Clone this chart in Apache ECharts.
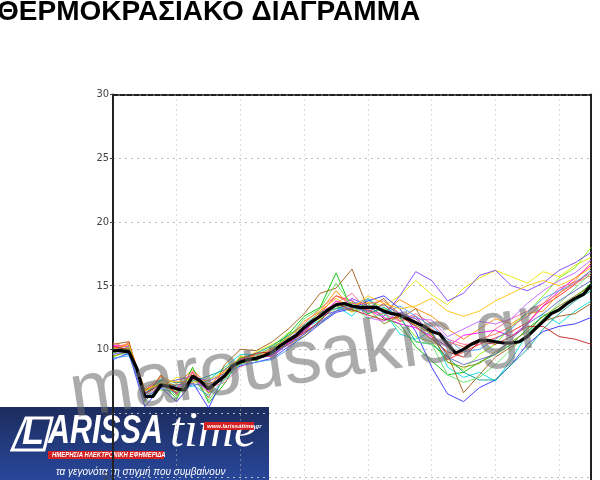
<!DOCTYPE html>
<html><head><meta charset="utf-8">
<script src="https://cdn.jsdelivr.net/npm/echarts@6/dist/echarts.min.js"></script>
<style>html,body{margin:0;padding:0;background:#fff}#c{width:600px;height:480px}</style>
</head><body><div id="c"></div>
<script>
// Title / texts
const titleText = "ΘΕΡΜΟΚΡΑΣΙΑΚΟ ΔΙΑΓΡΑΜΜΑ";
const watermarkText = "marousakis.gr";
const yTicks = [-5, 0, 5, 10, 15, 20, 25, 30];

// Ensemble mean, 6-hourly from 0 to 360 h
const meanT = [9.9, 9.9, 9.8, 8.5, 6.3, 6.3, 7.2, 7.1, 6.9, 6.8, 7.9, 7.5, 6.9, 7.4, 7.9, 8.7, 9.0, 9.2, 9.3, 9.5,
  9.8, 10.3, 10.7, 11.1, 11.7, 12.2, 12.6, 13.1, 13.5, 13.6, 13.4, 13.3, 13.3, 13.3, 13.0, 12.8, 12.7, 12.4, 12.1, 11.8,
  11.4, 11.2, 10.4, 9.7, 10.0, 10.4, 10.7, 10.7, 10.6, 10.5, 10.5, 10.6, 11.0, 11.6, 12.2, 12.8, 13.1, 13.6, 14.0, 14.3, 15.0];

// Ensemble members, 12-hourly from 0 to 360 h
const m01 = [10.2,10.4,6.8,7.6,6.5,8.2,6.6,8.4,9.3,9.6,9.4,10.5,11.4,12.8,14.2,13.8,12.9,13.6,12.2,12.6,11.0,9.2,9.8,10.4,10.9,11.4,12.1,13.4,14.2,15.1,16.2];
const m02 = [9.6,10.6,6.0,7.9,7.3,8.4,7.2,7.6,9.5,9.1,10.1,10.9,12.2,13.0,14.6,13.2,14.0,12.9,13.9,13.2,12.6,11.6,10.8,11.6,12.4,12.0,12.8,13.0,14.4,15.4,16.8];
const m03 = [9.8,10.1,6.6,7.0,7.8,7.6,7.0,8.6,9.2,9.8,10.4,11.0,11.8,12.4,13.8,12.9,13.7,13.4,14.2,15.4,14.3,13.5,14.8,15.6,16.2,15.7,15.2,16.1,15.7,16.6,17.2];
const m04 = [10.1,10.0,5.9,7.4,6.1,8.6,5.8,7.3,9.4,9.1,10.0,11.2,12.6,13.3,16.0,13.1,13.6,12.4,12.0,10.2,9.1,8.0,8.2,9.0,9.6,10.4,11.6,12.6,13.2,14.0,15.2];
const m05 = [9.4,9.9,6.9,6.8,6.7,8.0,6.5,8.2,8.8,9.4,10.2,11.3,11.4,12.0,13.2,13.7,12.8,13.2,12.4,11.0,10.6,9.0,8.4,9.6,10.4,11.8,12.9,14.2,15.6,16.4,18.0];
const m06 = [9.7,9.6,6.4,7.7,7.1,7.1,7.6,8.6,9.6,9.6,9.6,10.6,11.6,12.3,13.4,12.6,14.0,13.0,11.2,10.8,11.4,8.6,7.8,8.2,7.5,9.2,11.2,12.8,12.0,13.0,13.8];
const m07 = [9.2,9.7,5.5,7.0,5.9,7.4,5.4,8.0,8.7,9.0,9.3,10.2,11.0,12.0,12.9,13.2,13.8,14.2,13.2,11.4,8.6,6.5,5.9,7.0,7.6,8.8,10.4,11.4,11.8,12.0,12.5];
const m08 = [10.0,10.3,6.6,7.3,7.6,7.9,7.5,8.1,9.2,9.5,9.5,10.4,11.4,12.6,13.0,14.0,13.4,12.6,14.2,16.1,15.4,13.8,14.4,15.8,16.2,15.0,14.6,15.2,16.2,16.8,17.6];
const m09 = [10.3,10.2,6.2,7.1,7.0,7.7,6.8,8.0,9.0,9.3,9.6,10.5,11.5,12.6,13.8,13.3,13.1,12.5,12.0,11.7,11.0,10.2,11.1,11.3,11.5,11.0,12.0,13.4,14.6,15.6,16.6];
const m10 = [9.9,10.5,6.7,7.5,6.8,8.3,7.0,7.4,8.6,9.4,10.0,10.3,11.2,12.9,13.6,14.4,13.0,12.8,12.2,12.8,12.0,10.8,10.4,10.4,11.6,12.4,13.0,13.6,14.8,15.3,16.0];
const m11 = [10.4,10.6,6.1,8.0,6.4,7.8,6.2,8.8,10.0,9.9,10.6,11.6,12.8,14.4,14.8,16.3,13.2,14.0,12.4,13.2,11.2,9.6,6.6,8.0,9.4,10.2,11.0,12.2,12.6,12.8,13.6];
const m12 = [9.5,9.8,6.8,7.3,7.2,7.6,7.3,7.8,8.9,9.2,9.8,10.4,11.0,12.3,13.4,13.0,13.2,12.0,12.6,11.9,11.2,9.0,8.6,8.9,9.8,10.6,11.4,12.6,13.4,14.2,15.0];
const m13 = [9.8,10.0,6.5,7.6,7.4,7.5,7.9,8.4,9.3,9.7,10.3,11.1,11.9,12.9,13.2,13.5,12.8,13.3,12.6,10.6,10.4,9.4,8.2,7.6,7.6,8.8,10.0,11.6,12.8,13.8,14.6];
const m14 = [9.3,9.5,6.3,6.9,6.6,7.2,6.4,7.6,8.8,9.0,9.2,10.0,11.2,12.2,13.0,13.6,13.9,12.8,13.4,12.6,11.8,10.8,9.8,10.0,10.8,11.6,12.9,14.0,14.6,15.2,16.2];
const m15 = [10.5,10.1,6.9,7.8,7.0,8.1,7.1,8.3,9.1,9.6,10.1,11.0,12.0,13.2,14.2,13.6,13.6,13.8,12.8,12.2,11.6,10.6,10.2,10.8,11.2,11.8,12.6,13.6,14.4,15.2,15.8];
const m16 = [9.6,9.9,6.4,7.2,6.9,7.7,6.7,7.9,9.0,9.2,9.7,10.8,11.8,12.5,13.4,13.9,12.5,12.2,12.9,12.4,12.3,11.0,11.6,12.2,12.0,12.4,13.6,14.6,15.4,16.0,17.0];
const m17 = [10.0,10.4,6.7,7.4,7.5,7.4,7.6,8.2,9.4,9.4,9.9,10.6,11.6,13.0,14.0,13.2,14.2,13.6,13.2,13.4,14.0,13.0,12.6,13.0,13.8,14.4,15.0,15.4,15.0,15.6,16.4];
const m18 = [9.7,10.2,6.2,7.5,6.3,7.9,6.0,7.7,8.9,9.5,10.2,10.9,12.4,13.2,15.2,13.4,12.4,12.8,11.6,10.6,10.4,8.0,7.4,7.8,8.8,10.0,11.2,12.4,13.6,14.8,16.0];
const m19 = [10.2,10.0,6.5,7.3,6.6,7.8,6.9,8.0,9.2,9.7,9.8,10.6,11.3,12.2,13.6,13.1,12.7,12.3,12.6,11.8,10.8,9.8,9.4,10.6,10.4,11.0,11.8,11.8,11.0,10.8,10.4];
const m20 = [9.9,9.7,6.0,7.0,7.2,7.3,7.1,8.0,9.1,9.3,9.6,10.4,11.2,12.1,13.0,13.3,13.0,13.5,12.8,12.4,11.4,9.4,8.8,9.2,9.6,10.8,12.0,12.8,13.8,14.6,15.4];
const members = [m01,m02,m03,m04,m05,m06,m07,m08,m09,m10,m11,m12,m13,m14,m15,m16,m17,m18,m19,m20];

const memberColors = ['#ff2020','#ff8c00','#e8e800','#00c000','#80f000','#00dede','#3030ff','#8040ff','#ff00ff','#ff6090',
  '#a05a10','#8a8a00','#00a090','#40a0ff','#ff7050','#c060ff','#ffc000','#60e060','#c02020','#6060c0'];

const chart = echarts.init(document.getElementById('c'), null, {renderer: 'canvas'});

const series = members.map((m, k) => ({
  type: 'line', name: 'm' + (k + 1), symbol: 'none', silent: true, animation: false,
  data: m.map((v, i) => [i * 12, v]),
  lineStyle: {color: memberColors[k], width: 1, opacity: 0.9}, z: 2
}));
series.push({
  type: 'line', name: 'mean', symbol: 'none', silent: true, animation: false,
  data: meanT.map((v, i) => [i * 6, v]),
  lineStyle: {color: '#000', width: 3.2}, z: 5
});

const axisFont = {fontFamily: '"Liberation Sans Narrow","DejaVu Sans Condensed",sans-serif', fontSize: 11, color: '#444'};

chart.setOption({
  animation: false,
  grid: {left: 113, top: 94.5, width: 478, height: 446, containLabel: false, outerBoundsMode: 'none'},
  xAxis: [
    {type: 'value', min: 0, max: 360, interval: 48, position: 'bottom',
     axisLine: {show: false, onZero: false}, axisTick: {show: false}, axisLabel: {show: false},
     splitLine: {show: true, lineStyle: {color: '#bbb', type: [1, 4], width: 1}}},
    {type: 'value', min: 0, max: 360, interval: 48, position: 'top',
     axisLine: {show: true, onZero: false, lineStyle: {color: '#222', width: 2, type: [5, 2]}},
     axisTick: {show: false}, axisLabel: {show: false}, splitLine: {show: false}}
  ],
  yAxis: [
    {type: 'value', min: yTicks[0], max: yTicks[yTicks.length - 1], interval: 5, position: 'left',
     axisLine: {show: true, onZero: false, lineStyle: {color: '#222', width: 2}},
     axisTick: {show: true, length: 3, lineStyle: {color: '#444'}},
     axisLabel: Object.assign({margin: 4}, axisFont),
     splitLine: {show: true, lineStyle: {color: '#bbb', type: [2, 4], width: 1}}},
    {type: 'value', min: yTicks[0], max: yTicks[yTicks.length - 1], interval: 5, position: 'right',
     axisLine: {show: true, onZero: false, lineStyle: {color: '#222', width: 2}},
     axisTick: {show: false}, axisLabel: {show: false}, splitLine: {show: false}}
  ],
  series: series,
  graphic: [
    {type: 'text', x: -3, y: -2, z: 100,
     style: {text: titleText, font: 'bold 28px "Liberation Sans", Arial, sans-serif', fill: '#000'}},
    {type: 'text', x: 76, y: 434, rotation: 0.15, z: 50,
     style: {text: watermarkText, font: '76px "Liberation Sans", Arial, sans-serif', fill: 'rgba(110,110,110,0.58)', textVerticalAlign: 'bottom'}},
    {type: 'group', z: 200, children: [
      {type: 'rect', shape: {x: 0, y: 407, width: 269, height: 80},
       style: {fill: new echarts.graphic.LinearGradient(0, 0, 0, 1, [{offset: 0, color: '#1c2c5e'}, {offset: 1, color: '#2a4aa0'}])}},
      {type: 'polygon', shape: {points: [[26, 418], [52, 418], [44, 450], [12, 450]]}, style: {fill: 'none', stroke: '#fff', lineWidth: 3}},
      {type: 'text', x: 22, y: 452, style: {text: 'L', font: 'italic bold 36px "Liberation Sans", Arial, sans-serif', fill: '#fff', textVerticalAlign: 'bottom'}},
      {type: 'text', x: 48, y: 452, scaleX: 0.76, style: {text: 'ARISSA', font: 'italic bold 40px "Liberation Sans", Arial, sans-serif', fill: '#fff', textVerticalAlign: 'bottom'}},
      {type: 'text', x: 170, y: 458, style: {text: 'time', font: 'italic 50px "Liberation Serif", "Times New Roman", serif', fill: '#fff', textVerticalAlign: 'bottom'}},
      {type: 'rect', shape: {x: 48, y: 451, width: 116, height: 8}, style: {fill: '#d42020'}},
      {type: 'text', x: 52, y: 455, scaleX: 0.85, style: {text: 'ΗΜΕΡΗΣΙΑ ΗΛΕΚΤΡΟΝΙΚΗ ΕΦΗΜΕΡΙΔΑ', font: 'italic bold 7px "Liberation Sans", Arial, sans-serif', fill: '#fff', textVerticalAlign: 'middle'}},
      {type: 'rect', shape: {x: 204, y: 422, width: 50, height: 8}, style: {fill: '#d42020'}},
      {type: 'text', x: 207, y: 426, style: {text: 'www.larissatime.gr', font: 'italic bold 6px "Liberation Sans", Arial, sans-serif', fill: '#fff', textVerticalAlign: 'middle'}},
      {type: 'text', x: 56, y: 472, style: {text: 'τα γεγονότα τη στιγμή που συμβαίνουν', font: 'italic 10px "Liberation Sans", Arial, sans-serif', fill: '#fff', textVerticalAlign: 'middle'}}
    ]}
  ]
});
</script></body></html>
